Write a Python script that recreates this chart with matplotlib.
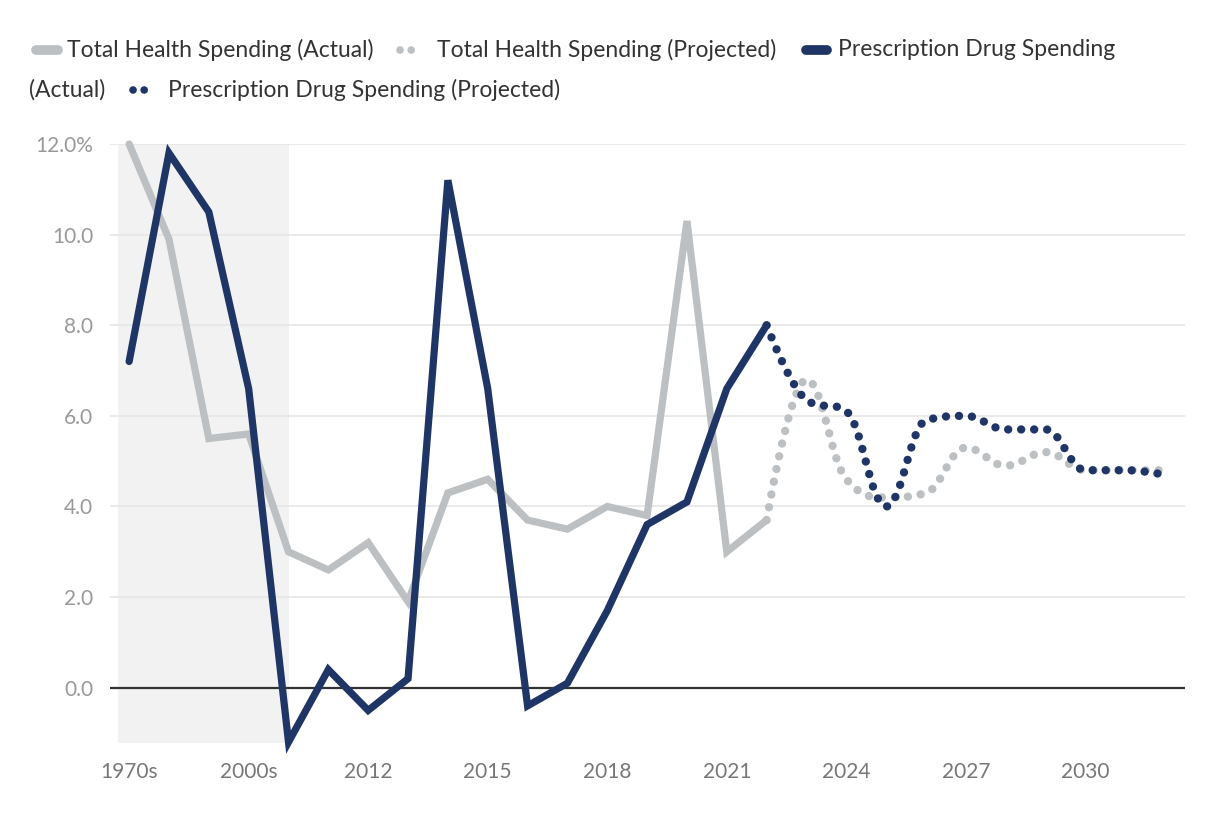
import numpy as np
import matplotlib.pyplot as plt
from matplotlib.path import Path
from matplotlib.patches import PathPatch
from matplotlib.lines import Line2D

plt.rcParams['font.family'] = ['Lato', 'DejaVu Sans']

# Categories on the x axis
periods = ["1970s", "1980s", "1990s", "2000s", "2010", "2011", "2012", "2013",
           "2014", "2015", "2016", "2017", "2018", "2019", "2020", "2021",
           "2022", "2023", "2024", "2025", "2026", "2027", "2028", "2029",
           "2030", "2031", "2032"]

# Annual growth (%)
total_actual = [12.0, 9.9, 5.5, 5.6, 3.0, 2.6, 3.2, 1.9, 4.3, 4.6, 3.7, 3.5,
                4.0, 3.8, 10.3, 3.0, 3.7]
total_projected = [3.7, 6.8, 4.6, 4.2, 4.3, 5.3, 4.9, 5.2, 4.8, 4.8, 4.8]
drug_actual = [7.2, 11.8, 10.5, 6.6, -1.2, 0.4, -0.5, 0.2, 11.2, 6.6, -0.4,
               0.1, 1.7, 3.6, 4.1, 6.6, 8.0]
drug_projected = [8.0, 6.35, 6.1, 4.0, 5.9, 6.0, 5.7, 5.7, 4.8, 4.8, 4.7]

gray = '#bcc0c2'
navy = '#1f3566'

x = np.arange(len(periods))
x_actual = x[:len(total_actual)]
x_proj = x[len(total_actual) - 1:]


def spline_path(xs, ys, smoothing=1.5):
    # smooth curve through the points, control points flattened at extremes
    xs = np.asarray(xs, float)
    ys = np.asarray(ys, float)
    n = len(xs)
    lc = [(xs[i], ys[i]) for i in range(n)]
    rc = [(xs[i], ys[i]) for i in range(n)]
    d = smoothing + 1
    for i in range(1, n - 1):
        px, py = xs[i], ys[i]
        lx = (smoothing * px + xs[i - 1]) / d
        ly = (smoothing * py + ys[i - 1]) / d
        rx = (smoothing * px + xs[i + 1]) / d
        ry = (smoothing * py + ys[i + 1]) / d
        if rx != lx:
            corr = (ry - ly) * (rx - px) / (rx - lx) + py - ry
            ly += corr
            ry += corr
        if ly > max(ys[i - 1], py):
            ly = max(ys[i - 1], py)
            ry = 2 * py - ly
        elif ly < min(ys[i - 1], py):
            ly = min(ys[i - 1], py)
            ry = 2 * py - ly
        if ry > max(py, ys[i + 1]):
            ry = max(py, ys[i + 1])
            ly = 2 * py - ry
        elif ry < min(py, ys[i + 1]):
            ry = min(py, ys[i + 1])
            ly = 2 * py - ry
        lc[i] = (lx, ly)
        rc[i] = (rx, ry)
    verts = [(xs[0], ys[0])]
    codes = [Path.MOVETO]
    for i in range(1, n):
        verts += [rc[i - 1], lc[i], (xs[i], ys[i])]
        codes += [Path.CURVE4] * 3
    return Path(verts, codes)


fig = plt.figure(figsize=(12.2, 8.14), dpi=100)
ax = fig.add_axes([110 / 1220, 1 - 743 / 814, 1075 / 1220, 599 / 814])

ax.set_xlim(-0.48, 26.5)
ax.set_ylim(-1.22, 12.0)

# shaded historical band
ax.axvspan(-0.28, 4.02, ymin=0, ymax=1, color='#f2f2f2', zorder=0, lw=0)

for yv in np.arange(2, 13, 2):
    ax.axhline(yv, color='#e6e6e6', lw=1.2, zorder=1)
ax.axhline(0, color='#333333', lw=1.6, zorder=2)

dot_style = (0, (0.01, 1.55))

ax.add_patch(PathPatch(spline_path(x_proj, total_projected), fill=False,
                       edgecolor=gray, lw=6, linestyle=dot_style,
                       capstyle='round', zorder=3))
ax.add_patch(PathPatch(spline_path(x_proj, drug_projected), fill=False,
                       edgecolor=navy, lw=6, linestyle=dot_style,
                       capstyle='round', zorder=4))
ax.plot(x_actual, total_actual, color=gray, lw=5.2, solid_capstyle='round',
        solid_joinstyle='miter', zorder=5, clip_on=False)
ax.plot(x_actual, drug_actual, color=navy, lw=5.2, solid_capstyle='round',
        solid_joinstyle='miter', zorder=6, clip_on=False)

for s in ax.spines.values():
    s.set_visible(False)

ax.set_xticks(x[::3])
ax.set_xticklabels(periods[::3], fontsize=15, color='#777777')
ax.set_yticks(np.arange(0, 13, 2))
ax.set_yticklabels(['12.0%' if v == 12 else f'{v:.1f}' for v in np.arange(0, 13, 2)],
                   fontsize=15, color='#999999')
ax.tick_params(axis='both', length=0)
ax.tick_params(axis='x', pad=14)
ax.tick_params(axis='y', pad=12)

# legend laid out as wrapped flowing text
W, H = 1220, 814


def fx(px):
    return px / W


def fy(py):
    return 1 - py / H


legend_color = '#333333'
fs = 16.5
dot_leg = (0, (0.01, 1.45))
fig.add_artist(Line2D([fx(36), fx(58)], [fy(50), fy(50)], color=gray, lw=7,
                      solid_capstyle='round'))
fig.text(fx(67), fy(50), 'Total Health Spending (Actual)', fontsize=fs,
         color=legend_color, va='center')
fig.add_artist(Line2D([fx(400), fx(414)], [fy(50), fy(50)], color=gray, lw=5.5,
                      linestyle=dot_leg, dash_capstyle='round'))
fig.text(fx(437), fy(50), 'Total Health Spending (Projected)', fontsize=fs,
         color=legend_color, va='center')
fig.add_artist(Line2D([fx(806), fx(827)], [fy(50), fy(50)], color=navy, lw=7,
                      solid_capstyle='round'))
fig.text(fx(838), fy(50), 'Prescription Drug Spending', fontsize=fs,
         color=legend_color, va='center')
fig.text(fx(29), fy(90), '(Actual)', fontsize=fs, color=legend_color, va='center')
fig.add_artist(Line2D([fx(133), fx(147)], [fy(90), fy(90)], color=navy, lw=5.5,
                      linestyle=dot_leg, dash_capstyle='round'))
fig.text(fx(168), fy(90), 'Prescription Drug Spending (Projected)', fontsize=fs,
         color=legend_color, va='center')

fig.savefig('out.png', dpi=100, facecolor='white')
